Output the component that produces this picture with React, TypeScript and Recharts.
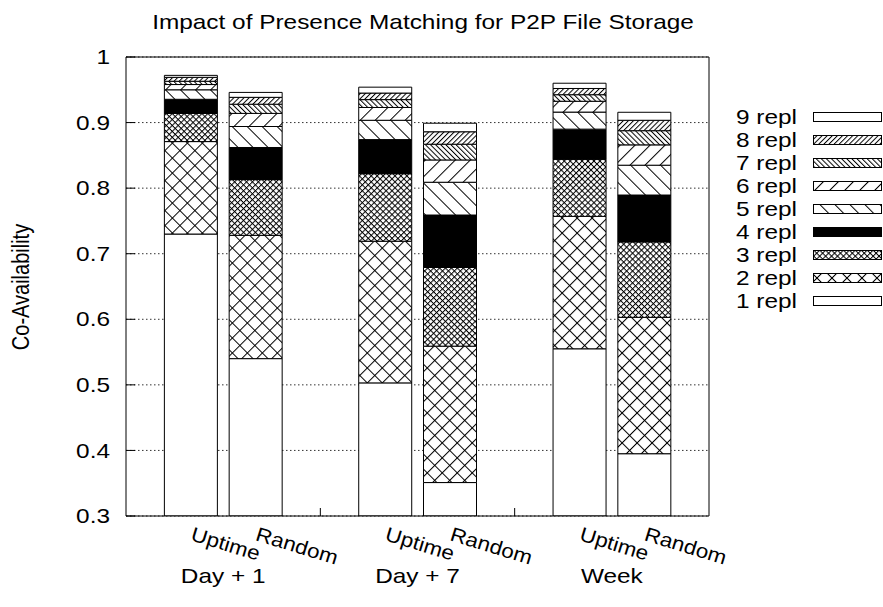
import React from 'react';
import { BarChart, Bar, XAxis, YAxis, CartesianGrid } from 'recharts';

// ---- data ----
const periods = ['Day + 1', 'Day + 7', 'Week'];
const methods = ['Uptime', 'Random'];
const replLabels = ['1 repl', '2 repl', '3 repl', '4 repl', '5 repl', '6 repl', '7 repl', '8 repl', '9 repl'];
const yTicks = [0.3, 0.4, 0.5, 0.6, 0.7, 0.8, 0.9, 1];

// cumulative co-availability reached with 1..9 replicas
const uptimeDay1 = [0.730, 0.871, 0.914, 0.9355, 0.950, 0.958, 0.963, 0.969, 0.972];
const randomDay1 = [0.540, 0.728, 0.813, 0.862, 0.894, 0.914, 0.928, 0.9385, 0.946];
const uptimeDay7 = [0.503, 0.719, 0.822, 0.874, 0.9035, 0.923, 0.935, 0.945, 0.954];
const randomDay7 = [0.351, 0.559, 0.679, 0.759, 0.809, 0.843, 0.867, 0.886, 0.899];
const uptimeWeek = [0.555, 0.757, 0.844, 0.890, 0.916, 0.9325, 0.9425, 0.952, 0.960];
const randomWeek = [0.395, 0.603, 0.718, 0.7895, 0.835, 0.866, 0.8876, 0.9035, 0.9157];

const seriesByPeriod = [
  [uptimeDay1, randomDay1],
  [uptimeDay7, randomDay7],
  [uptimeWeek, randomWeek],
];

const GROUP = 3; // slots per period (2 bars + gap)

const data = periods.flatMap((p, gi) =>
  methods.map((m, mi) => {
    const cum = seriesByPeriod[gi][mi];
    const row: any = { pos: gi * GROUP + mi, period: p, method: m };
    cum.forEach((v, k) => {
      row['r' + (k + 1)] = k === 0 ? v : v - cum[k - 1];
    });
    return row;
  })
);

const xTicks: number[] = [];
periods.forEach((_, gi) => {
  xTicks.push(gi * GROUP, gi * GROUP + 0.5, gi * GROUP + 1);
  if (gi < periods.length - 1) xTicks.push(gi * GROUP + 2);
});

const fills = ['#fff', 'url(#p2)', 'url(#p3)', '#000', 'url(#p5)', 'url(#p6)', 'url(#p7)', 'url(#p8)', '#fff'];

// ---- styling ----
const FONT = "'Liberation Sans', Arial, Helvetica, sans-serif";
const FS = 20;
const SX = 1.22;

const YTick = (props: any) => {
  const { x, y, payload } = props;
  const v = payload.value;
  const label = Number(v.toFixed(1)).toString();
  return (
    <text
      transform={`translate(${x},${y}) scale(${SX},1)`}
      textAnchor="end"
      dy="0.36em"
      fontFamily={FONT}
      fontSize={FS}
      fill="#000"
    >
      {label}
    </text>
  );
};

const XTick = (props: any) => {
  const { x, y, payload } = props;
  const v: number = payload.value;
  const r = Math.round((v % GROUP) * 10) / 10;
  const gi = Math.floor(v / GROUP);
  if (r === 0 || r === 1) {
    return (
      <text
        transform={`translate(${x - 1},${y + 24}) rotate(17) scale(1.12,1)`}
        textAnchor="start"
        fontFamily={FONT}
        fontSize={FS}
        fill="#000"
      >
        {methods[r]}
      </text>
    );
  }
  if (r === 0.5) {
    return (
      <text
        transform={`translate(${x},${y + 67}) scale(${SX},1)`}
        textAnchor="middle"
        fontFamily={FONT}
        fontSize={FS}
        fill="#000"
      >
        {periods[gi]}
      </text>
    );
  }
  return <line x1={x} y1={y} x2={x} y2={y - 8} stroke="#000" strokeWidth={1} />;
};

const Patterns = () => (
  <svg width={0} height={0} style={{ position: 'absolute', left: 0, top: 0 }}>
    <defs>
      <pattern id="p2" width={10.6} height={10.6} patternUnits="userSpaceOnUse" patternTransform="rotate(45)">
        <rect width={10.6} height={10.6} fill="#fff" />
        <line x1={0.5} y1={0} x2={0.5} y2={10.6} stroke="#000" strokeWidth={1} />
        <line x1={0} y1={0.5} x2={10.6} y2={0.5} stroke="#000" strokeWidth={1} />
      </pattern>
      <pattern id="p3" width={4.2} height={4.2} patternUnits="userSpaceOnUse" patternTransform="rotate(45)">
        <rect width={4.2} height={4.2} fill="#fff" />
        <line x1={0.5} y1={0} x2={0.5} y2={4.2} stroke="#000" strokeWidth={1} />
        <line x1={0} y1={0.5} x2={4.2} y2={0.5} stroke="#000" strokeWidth={1} />
      </pattern>
      <pattern id="p5" width={10.6} height={10.6} patternUnits="userSpaceOnUse" patternTransform="rotate(-45)">
        <rect width={10.6} height={10.6} fill="#fff" />
        <line x1={0.5} y1={0} x2={0.5} y2={10.6} stroke="#000" strokeWidth={1} />
      </pattern>
      <pattern id="p6" width={10.6} height={10.6} patternUnits="userSpaceOnUse" patternTransform="rotate(45)">
        <rect width={10.6} height={10.6} fill="#fff" />
        <line x1={0.5} y1={0} x2={0.5} y2={10.6} stroke="#000" strokeWidth={1} />
      </pattern>
      <pattern id="p7" width={3.6} height={3.6} patternUnits="userSpaceOnUse" patternTransform="rotate(-45)">
        <rect width={3.6} height={3.6} fill="#fff" />
        <line x1={0.5} y1={0} x2={0.5} y2={3.6} stroke="#000" strokeWidth={1} />
      </pattern>
      <pattern id="p8" width={3.6} height={3.6} patternUnits="userSpaceOnUse" patternTransform="rotate(45)">
        <rect width={3.6} height={3.6} fill="#fff" />
        <line x1={0.5} y1={0} x2={0.5} y2={3.6} stroke="#000" strokeWidth={1} />
      </pattern>
    </defs>
  </svg>
);

const Overlay = () => {
  const rowTop = 117;
  const rowStep = 23;
  return (
    <svg
      width={883}
      height={607}
      style={{ position: 'absolute', left: 0, top: 0, pointerEvents: 'none' }}
    >
      <text
        transform={`translate(423,29) scale(${SX},1)`}
        textAnchor="middle"
        fontFamily={FONT}
        fontSize={FS}
        fill="#000"
      >
        Impact of Presence Matching for P2P File Storage
      </text>
      <text
        transform={`translate(29,287) rotate(-90) scale(1,${SX})`}
        textAnchor="middle"
        fontFamily={FONT}
        fontSize={FS}
        fill="#000"
      >
        Co-Availability
      </text>
      {replLabels
        .map((label, k) => ({ label, k }))
        .reverse()
        .map(({ label, k }, i) => {
          const cy = rowTop + i * rowStep;
          return (
            <g key={label}>
              <text
                transform={`translate(797,${cy}) scale(${SX},1)`}
                textAnchor="end"
                dy="0.36em"
                fontFamily={FONT}
                fontSize={FS}
                fill="#000"
              >
                {label}
              </text>
              <rect x={813.5} y={cy - 4.5} width={68} height={9} fill={fills[k]} stroke="#000" strokeWidth={1} />
            </g>
          );
        })}
    </svg>
  );
};

export default function App() {
  return (
    <div style={{ position: 'absolute', left: 0, top: 0, width: 883, height: 607, background: '#fff' }}>
      <Patterns />
      <BarChart
        width={883}
        height={607}
        data={data}
        margin={{ top: 56, right: 173, bottom: 0, left: 0 }}
        barSize={53}
      >
        <CartesianGrid vertical={false} stroke="#333" strokeDasharray="1.5 2.5" />
        <XAxis
          xAxisId={0}
          dataKey="pos"
          type="number"
          domain={[-1, 8]}
          allowDataOverflow
          ticks={xTicks}
          interval={0}
          height={91}
          tickSize={0}
          tickMargin={0}
          tickLine={false}
          axisLine={{ stroke: '#000' }}
          tick={<XTick />}
        />
        <XAxis
          xAxisId="top"
          orientation="top"
          type="number"
          domain={[-1, 8]}
          allowDataOverflow
          height={1}
          tick={false}
          tickLine={false}
          axisLine={{ stroke: '#000' }}
        />
        <YAxis
          yAxisId={0}
          type="number"
          domain={[0.3, 1]}
          allowDataOverflow
          ticks={yTicks}
          interval={0}
          width={126}
          axisLine={{ stroke: '#000' }}
          tickLine={{ stroke: '#000' }}
          tickSize={-9}
          tickMargin={25}
          tick={<YTick />}
        />
        <YAxis
          yAxisId="right"
          orientation="right"
          type="number"
          domain={[0.3, 1]}
          allowDataOverflow
          ticks={yTicks}
          interval={0}
          width={1}
          axisLine={{ stroke: '#000' }}
          tickLine={{ stroke: '#000' }}
          tickSize={-9}
          tick={false}
        />
        {replLabels.map((name, k) => (
          <Bar
            key={name}
            xAxisId={0}
            yAxisId={0}
            dataKey={'r' + (k + 1)}
            name={name}
            stackId="a"
            fill={fills[k]}
            stroke="#000"
            strokeWidth={1}
            isAnimationActive={false}
          />
        ))}
      </BarChart>
      <Overlay />
    </div>
  );
}
